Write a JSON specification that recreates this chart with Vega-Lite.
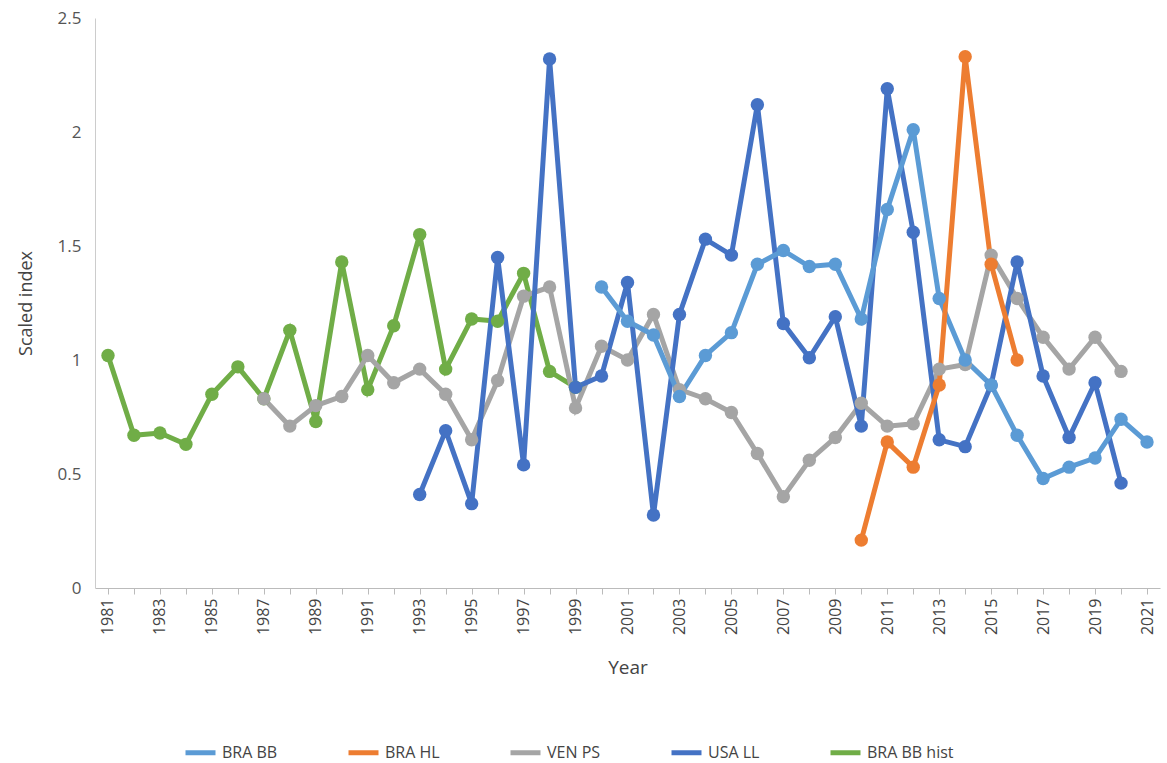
{
  "$schema": "https://vega.github.io/schema/vega-lite/v6.json",
  "width": 1065,
  "height": 570,
  "autosize": "none",
  "padding": {"left": 95, "top": 18, "right": 7, "bottom": 175},
  "config": {"font": "Open Sans", "view": {"stroke": null}},
  "data": {"values": [
    {"s":"BRA BB hist","y":1981,"v":1.02},{"s":"BRA BB hist","y":1982,"v":0.67},{"s":"BRA BB hist","y":1983,"v":0.68},{"s":"BRA BB hist","y":1984,"v":0.63},{"s":"BRA BB hist","y":1985,"v":0.85},{"s":"BRA BB hist","y":1986,"v":0.97},{"s":"BRA BB hist","y":1987,"v":0.83},{"s":"BRA BB hist","y":1988,"v":1.13},{"s":"BRA BB hist","y":1989,"v":0.73},{"s":"BRA BB hist","y":1990,"v":1.43},{"s":"BRA BB hist","y":1991,"v":0.87},{"s":"BRA BB hist","y":1992,"v":1.15},{"s":"BRA BB hist","y":1993,"v":1.55},{"s":"BRA BB hist","y":1994,"v":0.96},{"s":"BRA BB hist","y":1995,"v":1.18},{"s":"BRA BB hist","y":1996,"v":1.17},{"s":"BRA BB hist","y":1997,"v":1.38},{"s":"BRA BB hist","y":1998,"v":0.95},{"s":"BRA BB hist","y":1999,"v":0.88},
    {"s":"VEN PS","y":1987,"v":0.83},{"s":"VEN PS","y":1988,"v":0.71},{"s":"VEN PS","y":1989,"v":0.80},{"s":"VEN PS","y":1990,"v":0.84},{"s":"VEN PS","y":1991,"v":1.02},{"s":"VEN PS","y":1992,"v":0.90},{"s":"VEN PS","y":1993,"v":0.96},{"s":"VEN PS","y":1994,"v":0.85},{"s":"VEN PS","y":1995,"v":0.65},{"s":"VEN PS","y":1996,"v":0.91},{"s":"VEN PS","y":1997,"v":1.28},{"s":"VEN PS","y":1998,"v":1.32},{"s":"VEN PS","y":1999,"v":0.79},{"s":"VEN PS","y":2000,"v":1.06},{"s":"VEN PS","y":2001,"v":1.00},{"s":"VEN PS","y":2002,"v":1.20},{"s":"VEN PS","y":2003,"v":0.87},{"s":"VEN PS","y":2004,"v":0.83},{"s":"VEN PS","y":2005,"v":0.77},{"s":"VEN PS","y":2006,"v":0.59},{"s":"VEN PS","y":2007,"v":0.40},{"s":"VEN PS","y":2008,"v":0.56},{"s":"VEN PS","y":2009,"v":0.66},{"s":"VEN PS","y":2010,"v":0.81},{"s":"VEN PS","y":2011,"v":0.71},{"s":"VEN PS","y":2012,"v":0.72},{"s":"VEN PS","y":2013,"v":0.96},{"s":"VEN PS","y":2014,"v":0.98},{"s":"VEN PS","y":2015,"v":1.46},{"s":"VEN PS","y":2016,"v":1.27},{"s":"VEN PS","y":2017,"v":1.10},{"s":"VEN PS","y":2018,"v":0.96},{"s":"VEN PS","y":2019,"v":1.10},{"s":"VEN PS","y":2020,"v":0.95},
    {"s":"USA LL","y":1993,"v":0.41},{"s":"USA LL","y":1994,"v":0.69},{"s":"USA LL","y":1995,"v":0.37},{"s":"USA LL","y":1996,"v":1.45},{"s":"USA LL","y":1997,"v":0.54},{"s":"USA LL","y":1998,"v":2.32},{"s":"USA LL","y":1999,"v":0.88},{"s":"USA LL","y":2000,"v":0.93},{"s":"USA LL","y":2001,"v":1.34},{"s":"USA LL","y":2002,"v":0.32},{"s":"USA LL","y":2003,"v":1.20},{"s":"USA LL","y":2004,"v":1.53},{"s":"USA LL","y":2005,"v":1.46},{"s":"USA LL","y":2006,"v":2.12},{"s":"USA LL","y":2007,"v":1.16},{"s":"USA LL","y":2008,"v":1.01},{"s":"USA LL","y":2009,"v":1.19},{"s":"USA LL","y":2010,"v":0.71},{"s":"USA LL","y":2011,"v":2.19},{"s":"USA LL","y":2012,"v":1.56},{"s":"USA LL","y":2013,"v":0.65},{"s":"USA LL","y":2014,"v":0.62},{"s":"USA LL","y":2015,"v":0.89},{"s":"USA LL","y":2016,"v":1.43},{"s":"USA LL","y":2017,"v":0.93},{"s":"USA LL","y":2018,"v":0.66},{"s":"USA LL","y":2019,"v":0.90},{"s":"USA LL","y":2020,"v":0.46},
    {"s":"BRA BB","y":2000,"v":1.32},{"s":"BRA BB","y":2001,"v":1.17},{"s":"BRA BB","y":2002,"v":1.11},{"s":"BRA BB","y":2003,"v":0.84},{"s":"BRA BB","y":2004,"v":1.02},{"s":"BRA BB","y":2005,"v":1.12},{"s":"BRA BB","y":2006,"v":1.42},{"s":"BRA BB","y":2007,"v":1.48},{"s":"BRA BB","y":2008,"v":1.41},{"s":"BRA BB","y":2009,"v":1.42},{"s":"BRA BB","y":2010,"v":1.18},{"s":"BRA BB","y":2011,"v":1.66},{"s":"BRA BB","y":2012,"v":2.01},{"s":"BRA BB","y":2013,"v":1.27},{"s":"BRA BB","y":2014,"v":1.00},{"s":"BRA BB","y":2015,"v":0.89},{"s":"BRA BB","y":2016,"v":0.67},{"s":"BRA BB","y":2017,"v":0.48},{"s":"BRA BB","y":2018,"v":0.53},{"s":"BRA BB","y":2019,"v":0.57},{"s":"BRA BB","y":2020,"v":0.74},{"s":"BRA BB","y":2021,"v":0.64},
    {"s":"BRA HL","y":2010,"v":0.21},{"s":"BRA HL","y":2011,"v":0.64},{"s":"BRA HL","y":2012,"v":0.53},{"s":"BRA HL","y":2013,"v":0.89},{"s":"BRA HL","y":2014,"v":2.33},{"s":"BRA HL","y":2015,"v":1.42},{"s":"BRA HL","y":2016,"v":1.00}
  ]},
  "mark": {"type": "line", "point": {"size": 180, "opacity": 1}, "strokeWidth": 5},
  "encoding": {
    "x": {"field": "y", "type": "ordinal", "title": "Year",
      "scale": {"domain": [1981,1982,1983,1984,1985,1986,1987,1988,1989,1990,1991,1992,1993,1994,1995,1996,1997,1998,1999,2000,2001,2002,2003,2004,2005,2006,2007,2008,2009,2010,2011,2012,2013,2014,2015,2016,2017,2018,2019,2020,2021], "paddingInner": 0, "paddingOuter": 0.5},
      "axis": {"labelAngle": -90, "labelExpr": "datum.value % 2 == 1 ? datum.label : ''", "labelFontSize": 16, "labelColor": "#444", "titleFontSize": 19, "titleFontWeight": "normal", "titleColor": "#444", "titlePadding": 24, "domainColor": "#bbb", "tickColor": "#bbb", "tickSize": 6, "labelPadding": 4, "labelBaseline": "middle"}},
    "y": {"field": "v", "type": "quantitative", "title": "Scaled index",
      "scale": {"domain": [0, 2.5]},
      "axis": {"values": [0, 0.5, 1, 1.5, 2, 2.5], "labelExpr": "datum.value == 0 ? '0' : format(datum.value, '')", "grid": false, "ticks": false, "labelFontSize": 17, "labelColor": "#555", "titleFontSize": 18, "titleFontWeight": "normal", "titleColor": "#444", "titlePadding": 22, "domainColor": "#ccc", "labelPadding": 14}},
    "color": {"field": "s", "type": "nominal", "title": null,
      "scale": {"domain": ["BRA BB", "BRA HL", "VEN PS", "USA LL", "BRA BB hist"], "range": ["#5b9bd5", "#ed7d31", "#a5a5a5", "#4472c4", "#70ad47"]},
      "legend": {"orient": "none", "legendX": 88, "legendY": 717, "direction": "horizontal", "labelFontSize": 16, "labelColor": "#444", "symbolType": "stroke", "symbolStrokeWidth": 5, "symbolSize": 900, "columnPadding": 60, "labelLimit": 200}}
  }
}
